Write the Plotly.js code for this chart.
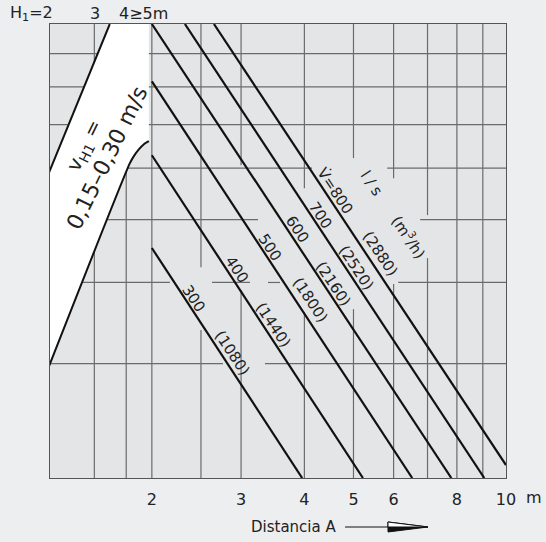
<!DOCTYPE html>
<html>
<head>
<meta charset="utf-8">
<script src="https://cdn.plot.ly/plotly-3.0.1.min.js"></script>
<style>html,body{margin:0;padding:0;background:#eceef0;}#chart{width:546px;height:542px;}</style>
</head>
<body>
<div id="chart"></div>
<script>
// ---- data ----
const xTickVals = [2, 3, 4, 5, 6, 8, 10];
const xTickText = ['2', '3', '4', '5', '6', '8', '10'];
const topLabels = ['H<sub>1</sub>=2', '3', '4≥5m'];

// flow lines (V in l/s and m3/h), end points
const flowLS = [300, 400, 500, 600, 700, 800];
const flowM3h = [1080, 1440, 1800, 2160, 2520, 2880];
const lineX0 = [2, 2, 2, 2, 2.324, 2.652];
const lineY0 = [4.52, 6.28, 8.16, 10, 10, 10];
const lineX1 = [3.96, 5.22, 6.53, 7.80, 9.06, 10];
const lineY1 = [2, 2, 2, 2, 2, 2.094];

// label anchor points (data units)
const lsLabelX = [2.421, 2.944, 3.421, 3.869, 4.295, 4.599];
const lsLabelY = [3.771, 4.178, 4.517, 4.831, 5.077, 5.546];
const m3hLabelX = [2.878, 3.469, 4.105, 4.557, 5.06, 5.645];
const m3hLabelY = [3.113, 3.439, 3.757, 3.977, 4.209, 4.422];

// white band (v_H1 = 0,15-0,30 m/s)
const bandX = [1.652, 1.973, 1.973, 1.929, 1.885, 1.843, 1.809, 1.240, 1.229, 1.652];
const bandY = [10, 10, 6.60, 6.53, 6.41, 6.26, 6.10, 2.91, 5.69, 10];
const bandUpperX = [1.652, 1.229];
const bandUpperY = [10, 5.69];
const bandLowerX = [1.973, 1.929, 1.885, 1.843, 1.809, 1.240];
const bandLowerY = [6.60, 6.53, 6.41, 6.26, 6.10, 2.91];

// grid segments: horizontal [y, x0, x1], vertical [x, y0, y1]
const gridH = [
  [9, 1.259, 10], [8, 1.259, 10], [7, 1.259, 10],
  [6, 1.259, 4.142], [6, 5.828, 10],
  [5, 1.259, 3.240], [5, 6.77, 10],
  [4, 1.259, 2.171], [4, 2.628, 3.124], [4, 3.390, 3.581], [4, 6.127, 10],
  [3, 1.259, 2.763], [3, 3.344, 10]
];
const gridV = [
  [1.54, 2, 10], [1.78, 2, 10], [2, 2, 10],
  [2.5, 2, 3.379], [2.5, 4.223, 10],
  [3, 2, 3.893], [3, 6.061, 10],
  [4, 2, 3.601], [4, 5.588, 10],
  [5, 2, 3.639], [5, 6.214, 10],
  [6, 2, 3.977], [6, 5.787, 10],
  [7, 2, 4.360], [7, 5.078, 10],
  [8, 2, 10], [9, 2, 10]
];

// ---- build ----
const gx = [], gy = [];
gridH.forEach(s => { gx.push(s[1], s[2], null); gy.push(s[0], s[0], null); });
gridV.forEach(s => { gx.push(s[0], s[0], null); gy.push(s[1], s[2], null); });

const traces = [];
traces.push({x: gx, y: gy, mode: 'lines', line: {color: '#6b6b6b', width: 1.2}, hoverinfo: 'skip', showlegend: false});
traces.push({x: bandX, y: bandY, mode: 'lines', fill: 'toself', fillcolor: '#ffffff', line: {width: 0, color: 'rgba(0,0,0,0)'}, hoverinfo: 'skip', showlegend: false});
traces.push({x: bandUpperX, y: bandUpperY, mode: 'lines', line: {color: '#111', width: 2}, showlegend: false});
traces.push({x: bandLowerX, y: bandLowerY, mode: 'lines', line: {color: '#111', width: 2, shape: 'spline', smoothing: 0.6}, showlegend: false});
flowLS.forEach((v, i) => {
  traces.push({x: [lineX0[i], lineX1[i]], y: [lineY0[i], lineY1[i]], mode: 'lines',
    line: {color: '#111', width: 2.2}, name: v + ' l/s', showlegend: false});
});

const FONT = 'DejaVu Sans, Liberation Sans, Arial, sans-serif';
const ANG = 56.5;
const LF = 15;
const ann = [];
flowLS.forEach((v, i) => {
  ann.push({x: Math.log10(lsLabelX[i]), y: Math.log10(lsLabelY[i]), xref: 'x', yref: 'y',
    text: (i === flowLS.length - 1 ? 'V\u0307=' : '') + v, showarrow: false, textangle: ANG,
    font: {family: FONT, size: LF, color: '#222'}});
  ann.push({x: Math.log10(m3hLabelX[i]), y: Math.log10(m3hLabelY[i]), xref: 'x', yref: 'y',
    text: '(' + flowM3h[i] + ')', showarrow: false, textangle: ANG,
    font: {family: FONT, size: LF, color: '#222'}});
});
ann.push({x: Math.log10(5.418), y: Math.log10(5.685), xref: 'x', yref: 'y', text: 'l / s',
  showarrow: false, textangle: ANG, font: {family: FONT, size: LF, color: '#222'}});
ann.push({x: Math.log10(6.44), y: Math.log10(4.697), xref: 'x', yref: 'y', text: '(m<sup>3</sup>/h)',
  showarrow: false, textangle: ANG, font: {family: FONT, size: LF, color: '#222'}});
// band text
ann.push({x: 0.1686, y: 0.8118, xref: 'x', yref: 'y', text: 'v<sub>H1</sub> =',
  showarrow: false, textangle: -64, font: {family: FONT, size: 20, color: '#222'}});
ann.push({x: 0.213, y: 0.794, xref: 'x', yref: 'y', text: '0,15–0,30 m/s',
  showarrow: false, textangle: -64, font: {family: FONT, size: 22, color: '#222'}});
// top labels
ann.push({x: 0.012, y: 1.0242, xref: 'paper', yref: 'paper', xanchor: 'right', yanchor: 'middle',
  text: topLabels[0], showarrow: false, font: {family: FONT, size: 16, color: '#222'}});
ann.push({x: 0.0987, y: 1.0242, xref: 'paper', yref: 'paper', xanchor: 'center', yanchor: 'middle',
  text: topLabels[1], showarrow: false, font: {family: FONT, size: 16, color: '#222'}});
ann.push({x: 0.148, y: 1.0242, xref: 'paper', yref: 'paper', xanchor: 'left', yanchor: 'middle',
  text: topLabels[2], showarrow: false, font: {family: FONT, size: 16, color: '#222'}});
// axis extras
ann.push({x: 1.04, y: -0.0419, xref: 'paper', yref: 'paper', xanchor: 'left', yanchor: 'middle',
  text: 'm', showarrow: false, font: {family: FONT, size: 16, color: '#222'}});
ann.push({x: 0.437, y: -0.1079, xref: 'paper', yref: 'paper', xanchor: 'left', yanchor: 'middle',
  text: 'Distancia A', showarrow: false, font: {family: FONT, size: 15, color: '#222'}});

const shapes = [
  {type: 'line', xref: 'paper', yref: 'paper', x0: 0.647, x1: 0.745, y0: -0.1079, y1: -0.1079,
   line: {color: '#111', width: 1.2}},
  {type: 'path', xref: 'paper', yref: 'paper',
   path: 'M 0.7412,-0.0969 L 0.8289,-0.1079 L 0.7412,-0.1189 Z', fillcolor: '#111', line: {color: '#111', width: 1}},
  {type: 'path', xref: 'paper', yref: 'paper',
   path: 'M 0.7412,-0.0969 L 0.8289,-0.1079 L 0.7412,-0.1079 Z', fillcolor: '#ffffff', line: {color: '#111', width: 1}}
];

const layout = {
  width: 546, height: 542,
  margin: {l: 50, r: 40, t: 24, b: 64},
  paper_bgcolor: '#eceef0', plot_bgcolor: '#e3e5e7',
  showlegend: false,
  xaxis: {type: 'log', range: [0.1, 1], tickvals: xTickVals, ticktext: xTickText,
    showgrid: false, zeroline: false, showline: true, mirror: true, linecolor: '#555', linewidth: 1,
    ticks: '', ticklabelstandoff: 7, tickfont: {family: FONT, size: 16, color: '#222'}, fixedrange: true},
  yaxis: {type: 'log', range: [Math.log10(2), 1], showticklabels: false,
    showgrid: false, zeroline: false, showline: true, mirror: true, linecolor: '#555', linewidth: 1,
    ticks: '', fixedrange: true},
  annotations: ann,
  shapes: shapes
};

Plotly.newPlot('chart', traces, layout, {displayModeBar: false, staticPlot: true});
</script>
</body>
</html>
